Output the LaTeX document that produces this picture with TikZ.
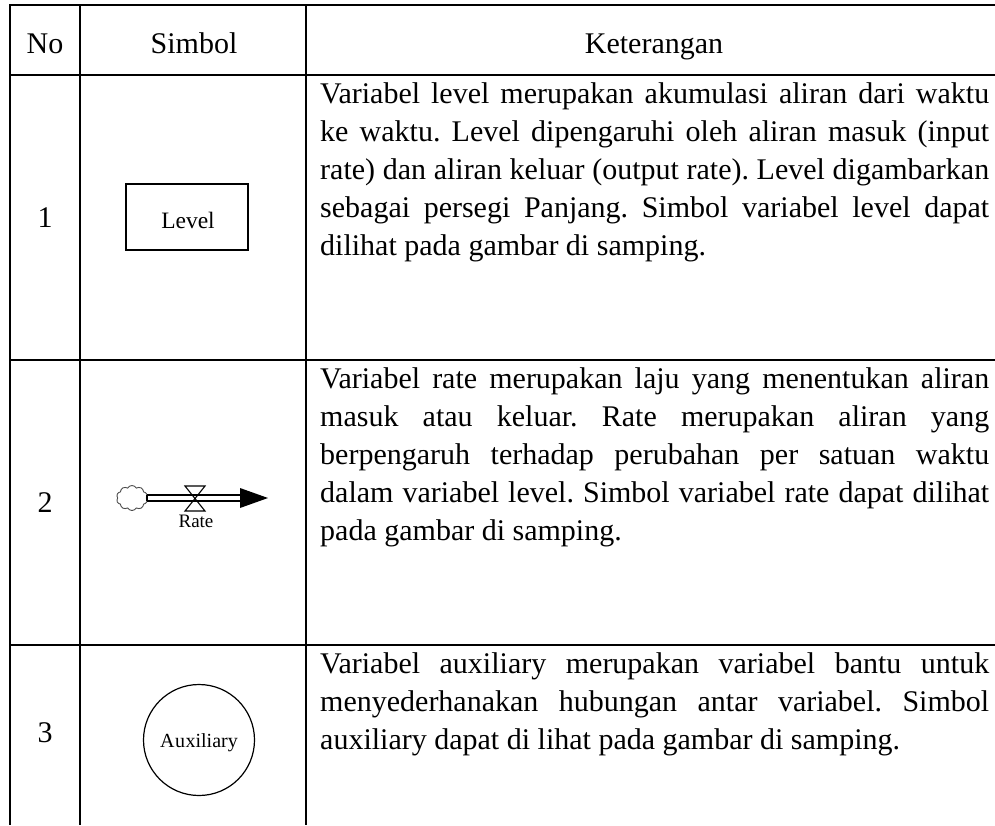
\documentclass[tikz,border=0pt]{standalone}
\usepackage{fontspec}
\setmainfont{Liberation Serif}
\usetikzlibrary{shapes.symbols}
\newlength{\desclen}
\setlength{\desclen}{669pt}
% a justified line of the description column, and the last (ragged) line
\newcommand{\fullline}[1]{\hbox to \desclen{#1}}
\newcommand{\lastline}[1]{\hbox{#1}}
\begin{document}
\begin{tikzpicture}[x=1pt,y=-1pt,
  hrule/.style={line width=1.6pt},
  vrule/.style={line width=1.1pt},
  body/.style={font=\fontsize{30}{38}\selectfont\frenchspacing, inner sep=0pt},
  cellbase/.style={body, anchor=base},
  desc/.style={body, anchor=base west},
  symline/.style={line width=1.1pt},
  symtext/.style={inner sep=0pt, anchor=base}]
\useasboundingbox (0,0) rectangle (995,825);

% table rules
\draw[hrule] (9,5) -- (995,5);
\draw[hrule] (9,75) -- (995,75);
\draw[hrule] (9,360) -- (995,360);
\draw[hrule] (9,645) -- (995,645);
\draw[vrule] (10,5) -- (10,825);
\draw[vrule] (80,5) -- (80,825);
\draw[vrule] (306,5) -- (306,825);

% header
\node[cellbase] (hno) at (45,53) {No};
\node[cellbase] (hsym) at (194,53) {Simbol};
\node[cellbase] (hket) at (654,53) {Keterangan};

% row numbers
\node[cellbase] (n1) at (45,227) {1};
\node[cellbase] (n2) at (45,512) {2};
\node[cellbase] (n3) at (45,742) {3};

% descriptions
\node[desc] (d1) at (320,103) {\vtop{%
  \fullline{Variabel level merupakan akumulasi aliran dari waktu}
  \fullline{ke waktu. Level dipengaruhi oleh aliran masuk (input}
  \fullline{rate) dan aliran keluar (output rate). Level digambarkan}
  \fullline{sebagai persegi Panjang. Simbol variabel level dapat}
  \lastline{dilihat pada gambar di samping.}}};
\node[desc] (d2) at (320,388) {\vtop{%
  \fullline{Variabel rate merupakan laju yang menentukan aliran}
  \fullline{masuk atau keluar. Rate merupakan aliran yang}
  \fullline{berpengaruh terhadap perubahan per satuan waktu}
  \fullline{dalam variabel level. Simbol variabel rate dapat dilihat}
  \lastline{pada gambar di samping.}}};
\node[desc] (d3) at (320,673) {\vtop{%
  \fullline{Variabel auxiliary merupakan variabel bantu untuk}
  \fullline{menyederhanakan hubungan antar variabel. Simbol}
  \lastline{auxiliary dapat di lihat pada gambar di samping.}}};

% level symbol
\node[draw, line width=1.2pt, minimum width=122pt, minimum height=66pt, inner sep=0pt] (level) at (187,217) {};
\node[symtext, font=\fontsize{23.5}{26}\selectfont] (leveltxt) at (188,228) {Level};

% rate symbol: cloud source, pipe, valve and arrow head
\node[cloud, draw=black!70, line width=0.9pt, cloud puffs=10, cloud puff arc=120,
      minimum width=31pt, minimum height=25pt, inner sep=0pt] (src) at (132,498) {};
\coordinate (pipeend) at (240,498);
\coordinate (tip) at (268,498);
\draw[symline] (147,495) -- (240,495);
\draw[symline] (147,501) -- (240,501);
\draw[symline] (147,495) -- (147,501);
\fill (240,488) -- (tip) -- (240,508) -- cycle;
\draw[symline] (185,486) -- (205,486) -- (185,511) -- (205,511) -- cycle;
\node[symtext, font=\fontsize{19}{22}\selectfont] (ratetxt) at (196,527) {Rate};

% auxiliary symbol
\node[draw, circle, line width=1.2pt, minimum size=111pt, inner sep=0pt] (aux) at (199,740) {};
\node[symtext, font=\fontsize{20}{22}\selectfont] (auxtxt) at (199,747) {A\kern0.5pt u\kern0.5pt xiliary};
\end{tikzpicture}
\end{document}
